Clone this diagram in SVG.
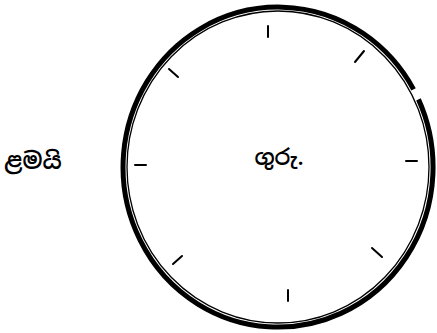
<svg xmlns="http://www.w3.org/2000/svg" width="437" height="333" viewBox="0 0 437 333">
<style>
.lbl{font-family:"Noto Sans Sinhala","Noto Serif Sinhala","Noto Sans",sans-serif;fill:#000;font-weight:600}
.tick{stroke:#000;stroke-width:2;stroke-linecap:round}
</style>
<rect width="437" height="333" fill="#fff"/>
<g id="dial">
<path d="M 413.56 89.43 A 155 160 0 1 0 418.48 99.38" fill="none" stroke="#000" stroke-width="5"/>
<ellipse cx="278" cy="167" rx="151" ry="156" fill="none" stroke="#000" stroke-width="1.3"/>
</g>
<g id="ticks">
<line class="tick" x1="268" y1="26" x2="268" y2="37"/>
<line class="tick" x1="355" y1="62" x2="364" y2="51"/>
<line class="tick" x1="406" y1="161" x2="417" y2="161"/>
<line class="tick" x1="372" y1="248" x2="382" y2="257"/>
<line class="tick" x1="288" y1="290" x2="288" y2="301"/>
<line class="tick" x1="173" y1="264" x2="182" y2="256"/>
<line class="tick" x1="135" y1="165" x2="146" y2="165"/>
<line class="tick" x1="169" y1="69" x2="178" y2="77"/>
</g>
<g id="children"><text class="lbl" x="33" y="169" font-size="23" text-anchor="middle">ළමයි</text></g>
<g id="teacher"><text class="lbl" x="279" y="165" font-size="22" text-anchor="middle">ගුරු.</text></g>
</svg>
